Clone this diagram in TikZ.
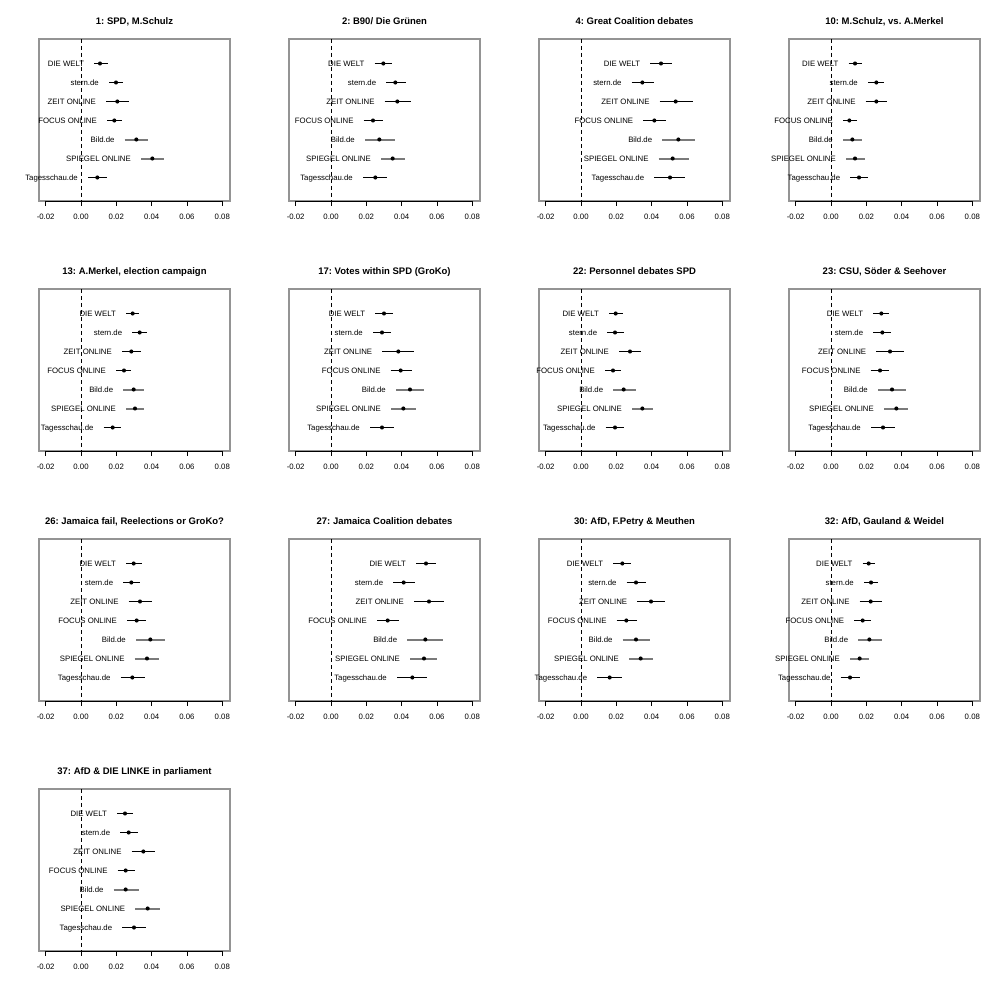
\documentclass[tikz,border=0pt]{standalone}
\usepackage{fontspec}
\setmainfont{Liberation Sans}
\frenchspacing
\tikzset{
 frame/.style={draw=black!42, line width=1.7pt},
 zeroline/.style={draw=black, line width=0.75pt, dash pattern=on 4pt off 3pt},
 axisline/.style={draw=black, line width=0.7pt},
 dot/.style={circle, fill=black, inner sep=0pt, minimum size=4.1pt},
 lab/.style={font=\fontsize{7.8}{9}\selectfont, inner sep=0pt, anchor=base east},
 ticklab/.style={font=\fontsize{7.8}{9}\selectfont, inner sep=0pt, anchor=base},
 ptitle/.style={font=\fontsize{9.5}{11}\selectfont\bfseries, inner sep=0pt, anchor=base},
}
\newcommand\outlet[1]{\ifcase#1 DIE WELT\or stern.de\or ZEIT ONLINE\or FOCUS ONLINE\or Bild.de\or SPIEGEL ONLINE\or Tagesschau.de\fi}
\newcommand\panel[5]{%
 \begin{scope}[shift={(250*#1,250*#2)}]
  \node[ptitle] (title-#4) at (134.5,24.1) {#3};
  \draw[frame] (39,39) rectangle (230,201);
  \draw[zeroline] (81,39) -- (81,201);
  \draw[axisline] (45.67,201) -- (222.33,201);
  \foreach \v [count=\k from 0] in {-0.02,0.00,0.02,0.04,0.06,0.08} {
    \draw[axisline] ({45.67+35.33*\k},201) -- ++(0,5);
    \node[ticklab] (tick-#4-\k) at ({45.67+35.33*\k},219.8) {\v};
  }
  \foreach \lowv/\midv/\higv [count=\i from 0] in {#5} {
    \pgfmathsetmacro\yy{63.5+19*\i}
    \pgfmathtruncatemacro\isg{(\i==4)||(\i==5)}
    \ifnum\isg=1 \def\cicol{black!52}\def\ciw{2pt}\def\cishift{0.5}\else\def\cicol{black}\def\ciw{1.35pt}\def\cishift{0}\fi
    \draw[draw=\cicol, line width=\ciw] ({\lowv/3},{\yy+\cishift}) -- ({\higv/3},{\yy+\cishift});
    \node[dot] (pt-#4-\i) at ({\midv/3},\yy) {};
    \node[lab] (lab-#4-\i) at ({\lowv/3-10},{\yy+2.8}) {\outlet{\i}};
  }
 \end{scope}}
\begin{document}
\begin{tikzpicture}[x=1pt,y=-1pt]
\fill[white] (0,0) rectangle (1000,1000);
\useasboundingbox (0,0) rectangle (1000,1000);
\panel{0}{0}{1: SPD, M.Schulz}{p1}{283/300/323,327/348/370,318/352/388,321/343/367,374/409/445,423/457/491,264/292/320}
\panel{1}{0}{2: B90/ Die Grünen}{p2}{374/400/426,409/436/467,404/442/482,341/369/398,345/388/436,393/428/466,339/376/412}
\panel{2}{0}{4: Great Coalition debates}{p4}{451/483/515,395/427/463,479/527/579,430/463/497,487/535/586,476/518/566,463/510/555}
\panel{3}{0}{10: M.Schulz, vs. A.Merkel}{p10}{296/315/336,354/379/402,347/379/411,279/298/320,279/307/337,288/315/344,301/327/354}
\panel{0}{1}{13: A.Merkel, election campaign}{p13}{378/398/417,397/419/440,366/394/423,348/372/393,370/401/432,378/405/432,311/338/364}
\panel{1}{1}{17: Votes within SPD (GroKo)}{p17}{376/402/429,369/396/422,397/445/491,422/452/486,438/480/523,423/460/498,360/396/432}
\panel{2}{1}{22: Personnel debates SPD}{p22}{327/347/368,322/345/371,357/390/422,315/339/363,340/371/408,396/427/460,317/345/372}
\panel{3}{1}{23: CSU, Söder \& Seehover}{p23}{370/394/418,370/397/424,379/420/461,362/390/417,384/426/467,402/439/475,363/399/435}
\panel{0}{2}{26: Jamaica fail, Reelections or GroKo?}{p26}{378/401/425,370/394/419,386/420/455,381/410/439,408/451/494,404/441/476,362/397/434}
\panel{1}{2}{27: Jamaica Coalition debates}{p27}{498/528/559,430/461/496,492/537/583,381/413/446,472/526/578,480/522/561,441/487/530}
\panel{2}{2}{30: AfD, F.Petry \& Meuthen}{p30}{340/367/394,380/408/437,412/453/496,350/379/410,368/408/451,387/422/460,292/329/366}
\panel{3}{2}{32: AfD, Gauland \& Weidel}{p32}{338/356/376,342/363/385,329/362/395,313/338/363,325/358/395,300/329/358,272/300/330}
\panel{0}{3}{37: AfD \& DIE LINKE in parliament}{p37}{351/375/400,361/386/413,395/430/466,353/377/404,341/377/418,406/443/481,367/402/437}
\end{tikzpicture}
\end{document}
